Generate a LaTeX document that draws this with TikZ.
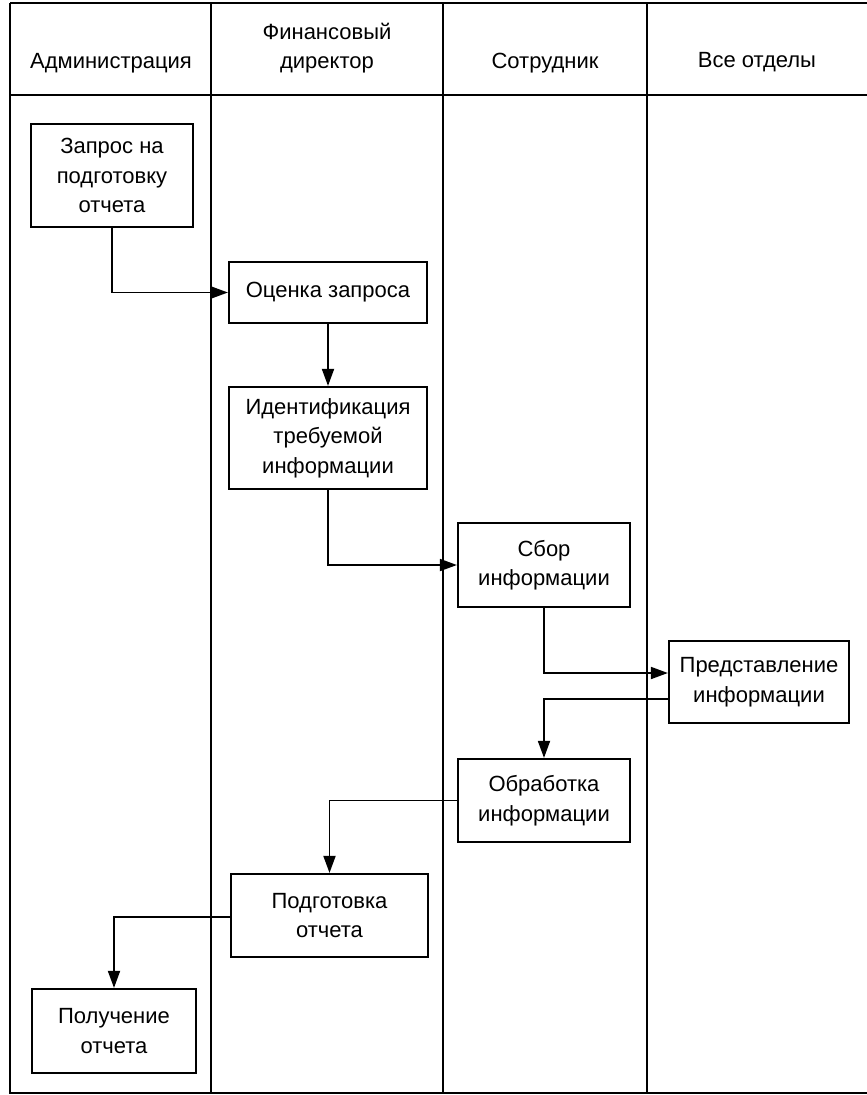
\documentclass[tikz,border=0pt]{standalone}
\usepackage{fontspec}
\setmainfont{Liberation Sans}
\usetikzlibrary{arrows.meta,calc}
\begin{document}
\begin{tikzpicture}[x=1pt,y=-1pt,
  every node/.style={font=\fontsize{22}{29.5}\selectfont, align=center, inner sep=0pt},
  proc/.style={draw, line width=2.2pt, rectangle},
  lane/.style={line width=2.2pt},
  arr/.style={line width=1.8pt, -{Triangle[length=17pt,width=12pt]}}]
\useasboundingbox (0,0) rectangle (867,1095);
% frame and lanes
\draw[lane] (10,3) -- (867,3);
\draw[lane] (10,95) -- (867,95);
\draw[lane] (10,3) -- (10,1093) -- (867,1093);
\draw[lane] (211,3) -- (211,1093);
\draw[lane] (443,3) -- (443,1093);
\draw[lane] (647,3) -- (647,1093);
% headers
\node (h1) at (111,63) {Администрация};
\node (h2) at (327,48) {Финансовый\\директор};
\node (h3) at (545,63) {Сотрудник};
\node (h4) at (757,62) {Все отделы};
% process boxes
\node[proc, minimum width=162pt, minimum height=103pt] (zap) at (112,175.5) {Запрос на\\подготовку\\отчета};
\node[proc, minimum width=198pt, minimum height=61pt] (ots) at (328,292.5) {Оценка запроса};
\node[proc, minimum width=198pt, minimum height=102pt] (idn) at (328,438) {Идентификация\\требуемой\\информации};
\node[proc, minimum width=172pt, minimum height=84pt] (sbr) at (544,565) {Сбор\\информации};
\node[proc, minimum width=180pt, minimum height=82pt] (prd) at (759,682) {Представление\\информации};
\node[proc, minimum width=172pt, minimum height=83pt] (obr) at (544,800.5) {Обработка\\информации};
\node[proc, minimum width=197pt, minimum height=83pt] (pdg) at (329.5,915.5) {Подготовка\\отчета};
\node[proc, minimum width=164pt, minimum height=84pt] (pol) at (114,1031) {Получение\\отчета};
% connectors
\draw[arr] (zap.south) |- (ots.west);
\draw[arr] (ots.south) -- (idn.north);
\draw[arr] (idn.south) |- (sbr.west);
\draw[arr] (sbr.south) |- ([yshift=9pt]prd.west);
\draw[arr] ([yshift=-17pt]prd.west) -| (obr.north);
\draw[arr] (obr.west) -| (pdg.north);
\draw[arr] ([yshift=-1.5pt]pdg.west) -| (pol.north);
\end{tikzpicture}
\end{document}
